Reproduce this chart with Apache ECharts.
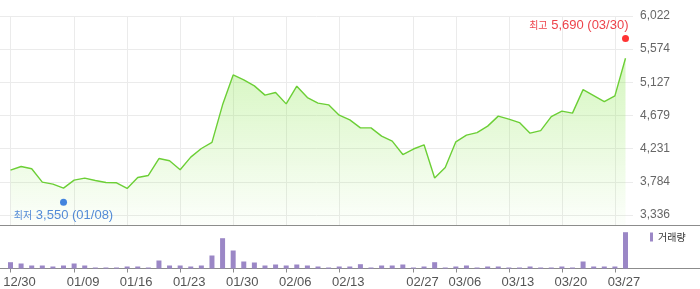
<!DOCTYPE html>
<html>
<head>
<meta charset="utf-8">
<script src="https://cdn.jsdelivr.net/npm/echarts@6/dist/echarts.min.js"></script>
<style>
html,body{margin:0;padding:0;background:#fff;}
#chart{width:700px;height:289px;}
</style>
</head>
<body>
<div id="chart"></div>
<script>
// ---- data ----
const dates = ['12/30','01/02','01/05','01/06','01/07','01/08','01/09','01/12','01/13','01/14',
  '01/15','01/16','01/19','01/20','01/21','01/22','01/23','01/26','01/27','01/28',
  '01/29','01/30','02/02','02/03','02/04','02/05','02/06','02/09','02/10','02/11',
  '02/12','02/13','02/19','02/20','02/23','02/24','02/25','02/26','02/27','03/03',
  '03/04','03/05','03/06','03/09','03/10','03/11','03/12','03/13','03/16','03/17',
  '03/18','03/19','03/20','03/23','03/24','03/25','03/26','03/27','03/30'];
const closes = [3943,3991,3960,3781,3754,3700,3808,3835,3802,3775,
  3771,3695,3843,3870,4099,4068,3947,4118,4234,4317,
  4823,5227,5160,5079,4954,4989,4836,5075,4921,4846,
  4823,4684,4621,4513,4513,4401,4334,4153,4227,4284,
  3835,3978,4324,4414,4449,4536,4671,4630,4584,4441,
  4476,4665,4738,4711,5029,4948,4867,4944,5452];
const volumes = [630,500,300,300,200,300,500,300,100,100,
  100,200,200,100,800,300,300,200,300,1300,
  3030,1800,700,600,300,400,300,400,300,200,
  100,200,200,430,100,300,300,400,100,200,
  630,100,200,300,100,200,200,100,100,200,
  100,100,200,100,700,200,200,200,3630];
const xTickLabels = ['12/30','01/09','01/16','01/23','01/30','02/06','02/13','02/27','03/06','03/13','03/20','03/27'];
const yTicks = [3336,3784,4231,4679,5127,5574,6022];
const yMin = 3195, yMax = 6022;
const volMax = 4300;
const highVal = 5690, highDate = '03/30';
const lowVal = 3550, lowDate = '01/08';
const volName = '거래량';

// ---- chart ----
const fmt = n => n.toLocaleString('en-US');
const isTick = (i, v) => xTickLabels.indexOf(v) >= 0;
const FONT = 'Liberation Sans, Arial, "Noto Sans CJK KR", sans-serif';
const GRID_C = '#ebebeb';
const AXIS_C = '#8c8c8c';
const P_TOP = 16, P_H = 209.5;
// background grid spans exactly from the first to the last y tick
const PB_H = (yTicks[yTicks.length - 1] - yTicks[0]) / (yMax - yMin) * P_H;

const chart = echarts.init(document.getElementById('chart'), null, {renderer: 'canvas'});
chart.setOption({
  animation: false,
  textStyle: {fontFamily: FONT},
  legend: {
    data: [volName], left: 650, top: 232, padding: 0,
    icon: 'rect', itemWidth: 3, itemHeight: 9,
    textStyle: {fontSize: 10, color: '#333', fontFamily: '"Noto Sans CJK KR", sans-serif'}
  },
  grid: [
    {left: 10.5, width: 615, top: P_TOP, height: P_H},  // price data
    {left: 0, width: 633, top: P_TOP, height: PB_H},    // price background (grid lines + labels)
    {left: 0, width: 700, top: P_TOP + P_H, height: 43},      // volume frame
    {left: 10.5, width: 615, top: P_TOP + P_H, height: 43}    // volume data
  ],
  xAxis: [
    {gridIndex: 0, type: 'category', data: dates, boundaryGap: false,
      axisLine: {show: false}, axisTick: {show: false}, axisLabel: {show: false},
      splitLine: {show: true, interval: isTick, lineStyle: {color: GRID_C, width: 1}}},
    {gridIndex: 1, type: 'value', min: 0, max: 1, show: false},
    {gridIndex: 2, type: 'value', min: 0, max: 1, position: 'bottom',
      axisLine: {show: true, lineStyle: {color: AXIS_C, width: 1}},
      axisTick: {show: false}, axisLabel: {show: false}, splitLine: {show: false}},
    {gridIndex: 2, type: 'value', min: 0, max: 1, position: 'top',
      axisLine: {show: true, lineStyle: {color: AXIS_C, width: 1}},
      axisTick: {show: false}, axisLabel: {show: false}, splitLine: {show: false}},
    {gridIndex: 3, type: 'category', data: dates, boundaryGap: false,
      axisLine: {show: false},
      axisTick: {show: true, interval: isTick, length: 4, lineStyle: {color: AXIS_C}},
      axisLabel: {show: true, interval: isTick, margin: 7, fontSize: 13, color: '#555',
        padding: [0, 0, 0, 18]},
      splitLine: {show: false}}
  ],
  yAxis: [
    {gridIndex: 0, type: 'value', min: yMin, max: yMax, show: false},
    {gridIndex: 1, type: 'value', position: 'right',
      min: 0, max: yTicks.length - 1, interval: 1,
      axisLine: {show: false}, axisTick: {show: false},
      splitLine: {show: true, lineStyle: {color: GRID_C, width: 1}},
      axisLabel: {margin: 7, fontSize: 12, color: '#666',
        showMinLabel: true, showMaxLabel: true,
        formatter: v => {
          const r = Math.round(v);
          return Math.abs(v - r) < 1e-6 && yTicks[r] !== undefined ? fmt(yTicks[r]) : '';
        }}},
    {gridIndex: 2, type: 'value', min: 0, max: 1, show: false},
    {gridIndex: 3, type: 'value', min: 0, max: volMax, show: false}
  ],
  series: [
    {type: 'line', xAxisIndex: 0, yAxisIndex: 0, data: closes, symbol: 'none',
      lineStyle: {color: '#6ccf36', width: 1.4},
      areaStyle: {color: new echarts.graphic.LinearGradient(0, 0, 0, 1, [
        {offset: 0, color: 'rgba(140,230,80,0.52)'},
        {offset: 1, color: 'rgba(140,230,80,0.03)'}
      ])}},
    {type: 'scatter', xAxisIndex: 0, yAxisIndex: 0, symbolSize: 7, z: 5,
      data: [
        {value: [highDate, highVal], symbolOffset: [0, -2],
          itemStyle: {color: '#ff0000'},
          label: {show: true, position: 'top', distance: 3, align: 'right', offset: [3, 0],
            fontSize: 13, color: '#e8101a',
            formatter: '{k|최고} {n|' + fmt(highVal) + ' (' + highDate + ')}',
            rich: {k: {fontSize: 10, color: '#e8101a', verticalAlign: 'middle', fontFamily: '"Noto Sans CJK KR", sans-serif'},
                   n: {fontSize: 13, color: '#e8101a', verticalAlign: 'middle'}}}},
        {value: [lowDate, lowVal], symbolOffset: [0, 3],
          itemStyle: {color: '#1565d8'},
          label: {show: true, position: 'bottom', distance: 3,
            fontSize: 13, color: '#2a6fcf',
            formatter: '{k|최저} {n|' + fmt(lowVal) + ' (' + lowDate + ')}',
            rich: {k: {fontSize: 10, color: '#2a6fcf', verticalAlign: 'middle', fontFamily: '"Noto Sans CJK KR", sans-serif'},
                   n: {fontSize: 13, color: '#2a6fcf', verticalAlign: 'middle'}}}}
      ]},
    {type: 'bar', name: volName, xAxisIndex: 4, yAxisIndex: 3, data: volumes,
      barWidth: 5, clip: false, itemStyle: {color: '#9b87c6'}}
  ]
});
</script>
</body>
</html>
